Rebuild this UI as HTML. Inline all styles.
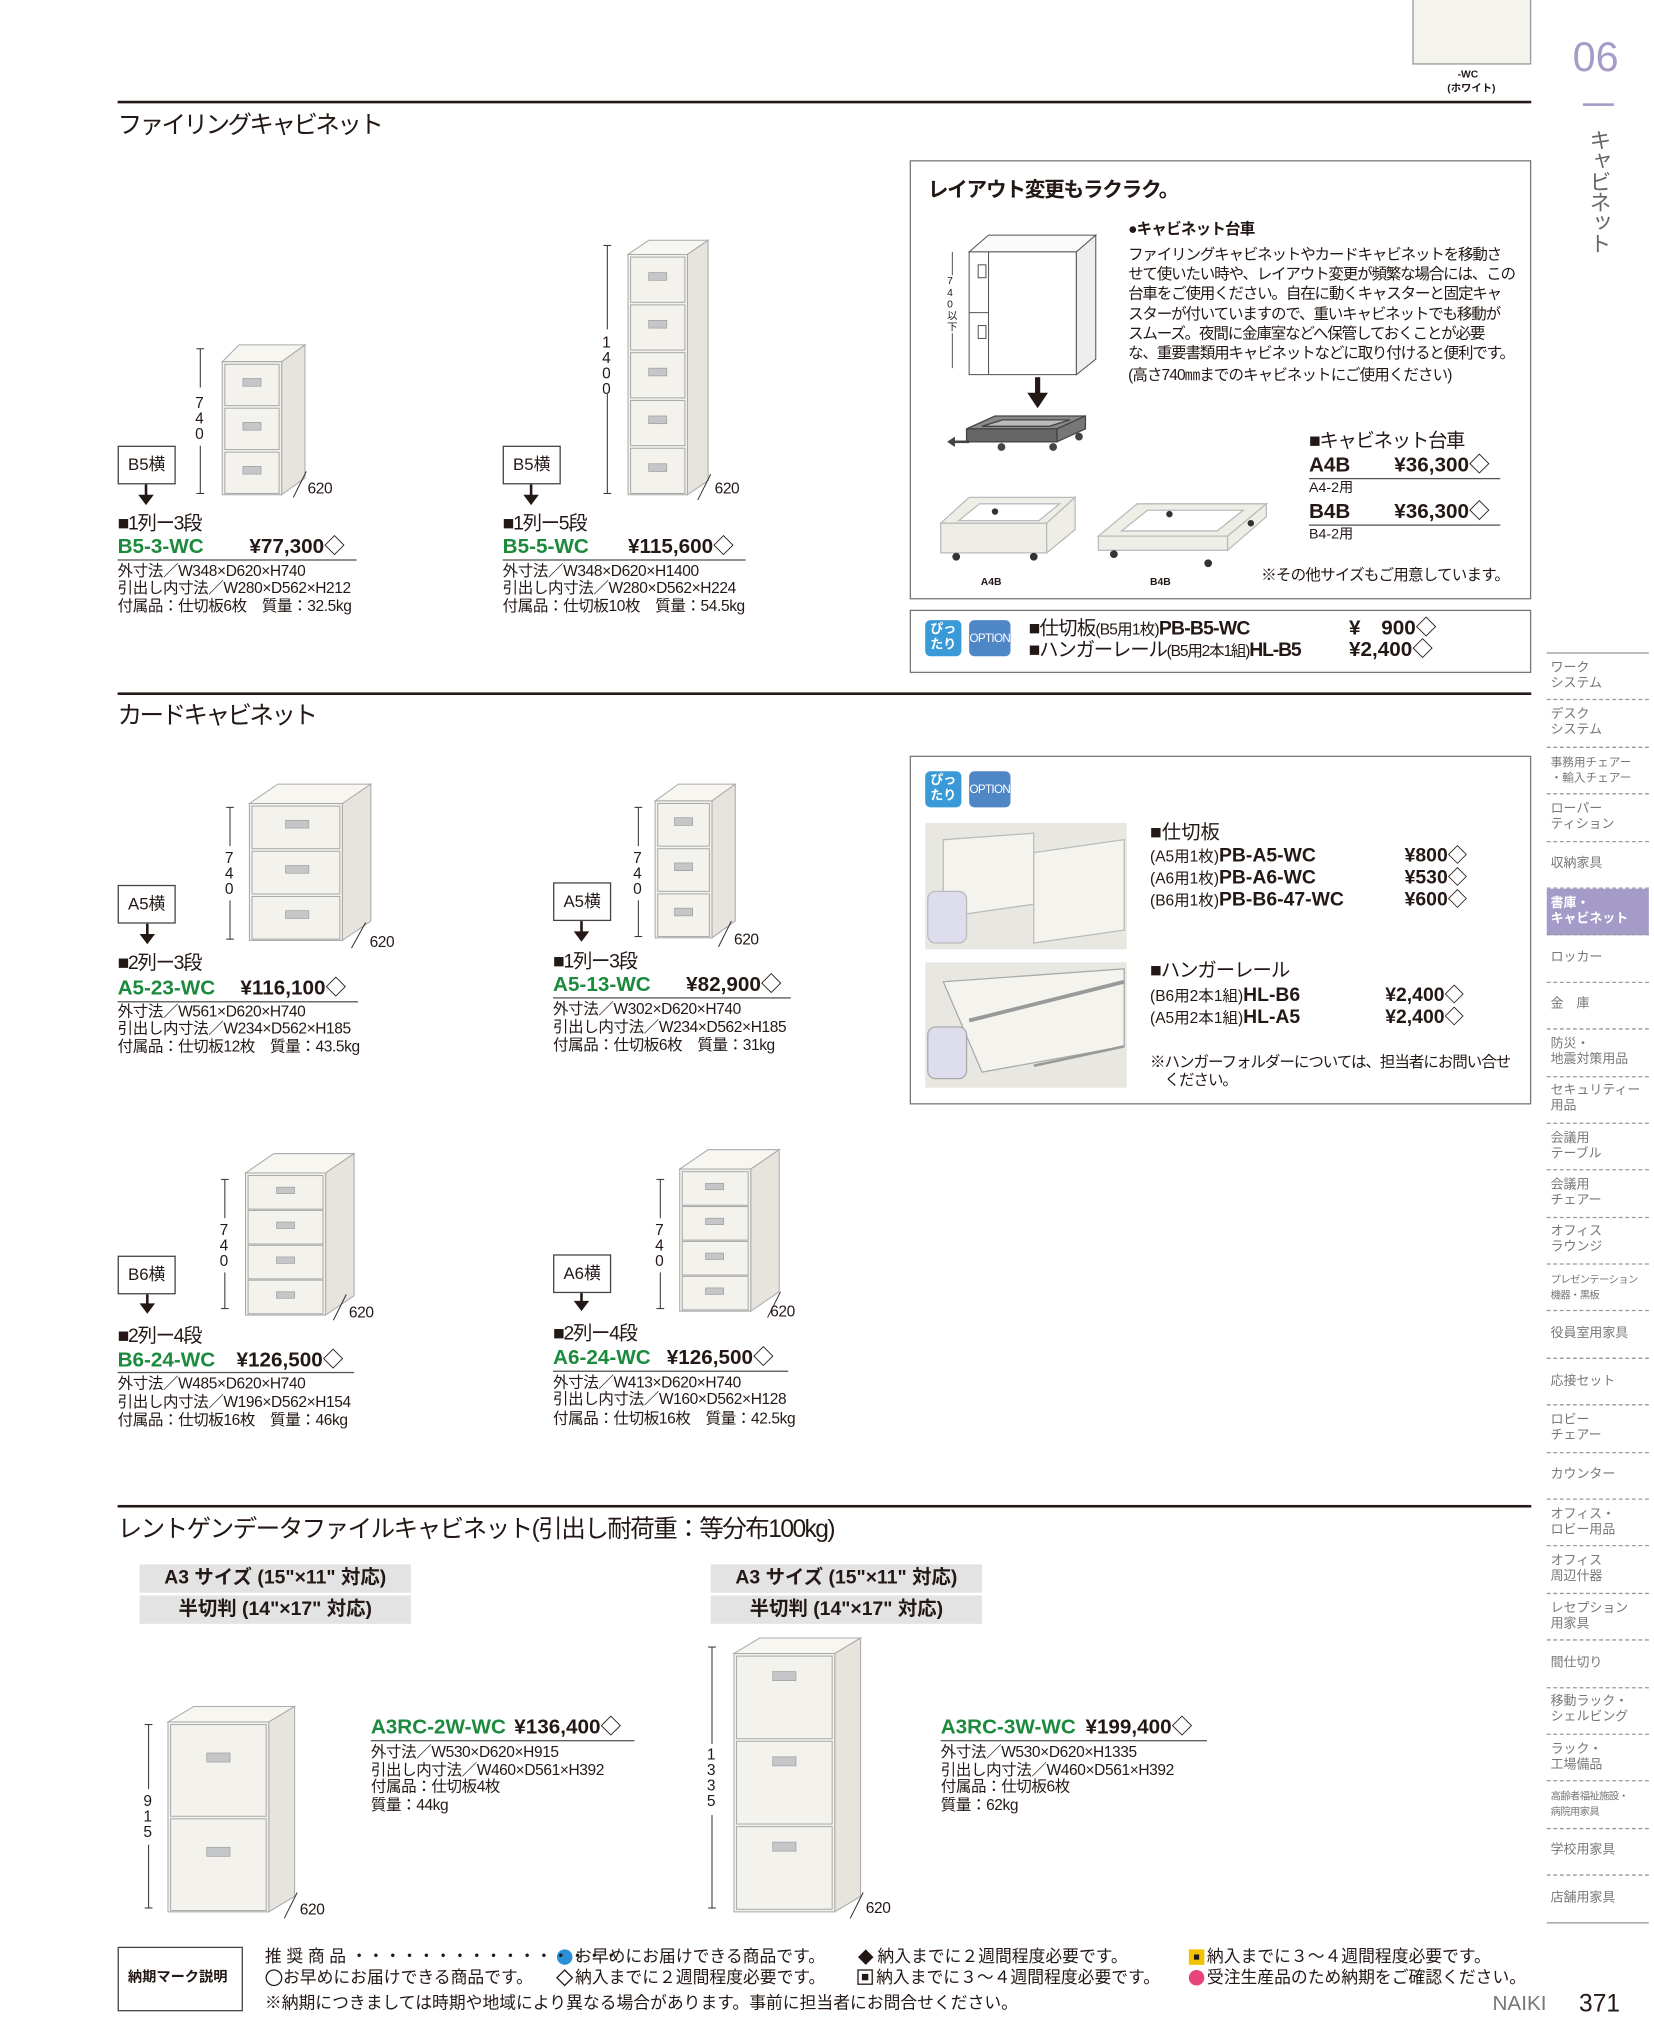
<!DOCTYPE html>
<html><head><meta charset="utf-8">
<style>
html,body{margin:0;padding:0;background:#fff;}
body{width:1654px;height:2032px;overflow:hidden;position:relative;}
#w{position:absolute;left:0;top:0;width:1280px;height:1573px;transform:scale(1.29219,1.29180);transform-origin:0 0;font-family:"Liberation Sans","Noto Sans CJK JP",sans-serif;color:#231815;}
.t{position:absolute;white-space:nowrap;line-height:1;}
.s{font-size:12px;letter-spacing:-0.3px;}
.g{color:#1b8a3c;font-weight:bold;}
.b{font-weight:bold;}
.h{font-size:19px;letter-spacing:-2px;}
.rule{position:absolute;height:2px;background:#231815;}
.ul{position:absolute;height:1px;background:#555;}
.box{position:absolute;border:1px solid #777;box-sizing:border-box;}
.lbl{position:absolute;border:1px solid #444;background:#fff;font-size:13px;line-height:28px;text-align:center;box-sizing:border-box;}
.nav{position:absolute;left:1197px;width:79px;font-size:10px;color:#777;line-height:12px;}
.navi{height:36.4px;border-bottom:1px dashed #999;box-sizing:border-box;display:flex;align-items:center;padding-left:3px;white-space:nowrap;overflow:hidden;}
.gray{position:absolute;background:#e3e3e3;font-size:15px;font-weight:bold;line-height:22px;text-align:center;}
.pit{position:absolute;width:28px;height:28px;background:#3a9ad8;border-radius:4px;color:#fff;font-size:10px;font-weight:bold;line-height:12px;text-align:center;padding-top:2px;box-sizing:border-box;}
.opt{position:absolute;width:32px;height:28px;background:#4f86c6;border-radius:4px;color:#fff;font-size:9px;line-height:28px;text-align:center;letter-spacing:-0.5px;}
</style></head><body><div id="w">

<div style="position:absolute;left:1093px;top:-2px;width:92px;height:52px;background:#f4f3ec;border:1px solid #999;box-sizing:border-box;"></div>
<div class="t b" style="left:1128px;top:54px;font-size:8px;">-WC</div>
<div class="t b" style="left:1120px;top:65px;font-size:8px;">(ホワイト)</div>
<div class="t" style="left:1217px;top:28px;font-size:32px;color:#a79bc8;">06</div>
<div style="position:absolute;left:1225px;top:80px;width:24px;height:2px;background:#a79bc8;"></div>
<div class="t" style="left:1228px;top:100px;font-size:17px;color:#666;writing-mode:vertical-rl;letter-spacing:-1px;">キャビネット</div>

<div class="rule" style="left:91px;top:78px;width:1094px;"></div>
<div class="t h" style="left:91px;top:88px;">ファイリングキャビネット</div>

<svg style="position:absolute;left:0;top:0" width="1280" height="1573" viewBox="0 0 1280 1573">
<g stroke="#aaa" stroke-width="0.8">
<polygon points="172,280 185,267 236,267 218,280" fill="#f7f6f1"/>
<polygon points="218,280 236,267 236,370 218,383" fill="#e6e4dc"/>
<rect x="172" y="280" width="46" height="103" fill="#f3f2ed"/>
<rect x="174" y="282" width="42" height="32" fill="#f3f2ed"/><rect x="174" y="316" width="42" height="32" fill="#f3f2ed"/><rect x="174" y="350" width="42" height="32" fill="#f3f2ed"/>
<polygon points="486,197 502,186 548,186 532,197" fill="#f7f6f1"/>
<polygon points="532,197 548,186 548,372 532,383" fill="#e6e4dc"/>
<rect x="486" y="197" width="46" height="186" fill="#f3f2ed"/>
<rect x="488" y="199" width="42" height="35" fill="#f3f2ed"/><rect x="488" y="236" width="42" height="35" fill="#f3f2ed"/><rect x="488" y="273" width="42" height="35" fill="#f3f2ed"/><rect x="488" y="310" width="42" height="35" fill="#f3f2ed"/><rect x="488" y="347" width="42" height="35" fill="#f3f2ed"/>
<polygon points="193,622 215,607 287,607 265,622" fill="#f7f6f1"/>
<polygon points="265,622 287,607 287,713 265,728" fill="#e6e4dc"/>
<rect x="193" y="622" width="72" height="106" fill="#f3f2ed"/>
<rect x="195" y="624" width="68" height="33" fill="#f3f2ed"/><rect x="195" y="659" width="68" height="33" fill="#f3f2ed"/><rect x="195" y="694" width="68" height="33" fill="#f3f2ed"/>
<polygon points="507,620 525,607 569,607 551,620" fill="#f7f6f1"/>
<polygon points="551,620 569,607 569,713 551,726" fill="#e6e4dc"/>
<rect x="507" y="620" width="44" height="106" fill="#f3f2ed"/>
<rect x="509" y="622" width="40" height="33" fill="#f3f2ed"/><rect x="509" y="657" width="40" height="33" fill="#f3f2ed"/><rect x="509" y="692" width="40" height="33" fill="#f3f2ed"/>
<polygon points="190,908 212,893 274,893 252,908" fill="#f7f6f1"/>
<polygon points="252,908 274,893 274,1003 252,1018" fill="#e6e4dc"/>
<rect x="190" y="908" width="62" height="110" fill="#f3f2ed"/>
<rect x="192" y="910" width="58" height="26" fill="#f3f2ed"/><rect x="192" y="937" width="58" height="26" fill="#f3f2ed"/><rect x="192" y="964" width="58" height="26" fill="#f3f2ed"/><rect x="192" y="991" width="58" height="26" fill="#f3f2ed"/>
<polygon points="526,905 548,890 603,890 581,905" fill="#f7f6f1"/>
<polygon points="581,905 603,890 603,1000 581,1015" fill="#e6e4dc"/>
<rect x="526" y="905" width="55" height="110" fill="#f3f2ed"/>
<rect x="528" y="907" width="51" height="26" fill="#f3f2ed"/><rect x="528" y="934" width="51" height="26" fill="#f3f2ed"/><rect x="528" y="961" width="51" height="26" fill="#f3f2ed"/><rect x="528" y="988" width="51" height="26" fill="#f3f2ed"/>
<polygon points="130,1333 150,1321 228,1321 208,1333" fill="#f7f6f1"/>
<polygon points="208,1333 228,1321 228,1468 208,1480" fill="#e6e4dc"/>
<rect x="130" y="1333" width="78" height="147" fill="#f3f2ed"/>
<rect x="132" y="1335" width="74" height="71" fill="#f3f2ed"/><rect x="132" y="1408" width="74" height="71" fill="#f3f2ed"/>
<polygon points="568,1280 588,1268 666,1268 646,1280" fill="#f7f6f1"/>
<polygon points="646,1280 666,1268 666,1468 646,1480" fill="#e6e4dc"/>
<rect x="568" y="1280" width="78" height="200" fill="#f3f2ed"/>
<rect x="570" y="1282" width="74" height="64" fill="#f3f2ed"/><rect x="570" y="1348" width="74" height="64" fill="#f3f2ed"/><rect x="570" y="1414" width="74" height="64" fill="#f3f2ed"/>
</g>
<g fill="#c4c6c8" stroke="#999" stroke-width="0.5">
<rect x="188" y="293" width="14" height="6"/><rect x="188" y="327" width="14" height="6"/><rect x="188" y="361" width="14" height="6"/>
<rect x="502" y="211" width="14" height="6"/><rect x="502" y="248" width="14" height="6"/><rect x="502" y="285" width="14" height="6"/><rect x="502" y="322" width="14" height="6"/><rect x="502" y="359" width="14" height="6"/>
<rect x="221" y="635" width="18" height="6"/><rect x="221" y="670" width="18" height="6"/><rect x="221" y="705" width="18" height="6"/>
<rect x="522" y="633" width="14" height="6"/><rect x="522" y="668" width="14" height="6"/><rect x="522" y="703" width="14" height="6"/>
<rect x="214" y="919" width="14" height="5"/><rect x="214" y="946" width="14" height="5"/><rect x="214" y="973" width="14" height="5"/><rect x="214" y="1000" width="14" height="5"/>
<rect x="546" y="916" width="14" height="5"/><rect x="546" y="943" width="14" height="5"/><rect x="546" y="970" width="14" height="5"/><rect x="546" y="997" width="14" height="5"/>
<rect x="160" y="1357" width="18" height="7"/><rect x="160" y="1430" width="18" height="7"/>
<rect x="598" y="1294" width="18" height="7"/><rect x="598" y="1360" width="18" height="7"/><rect x="598" y="1426" width="18" height="7"/>
</g>
<g stroke="#333" stroke-width="0.8">
<line x1="155" y1="270" x2="155" y2="300"/><line x1="155" y1="345" x2="155" y2="382"/><line x1="152" y1="270" x2="158" y2="270"/><line x1="152" y1="382" x2="158" y2="382"/>
<line x1="470" y1="190" x2="470" y2="255"/><line x1="470" y1="305" x2="470" y2="382"/><line x1="467" y1="190" x2="473" y2="190"/><line x1="467" y1="382" x2="473" y2="382"/>
<line x1="178" y1="625" x2="178" y2="655"/><line x1="178" y1="697" x2="178" y2="727"/><line x1="175" y1="625" x2="181" y2="625"/><line x1="175" y1="727" x2="181" y2="727"/>
<line x1="494" y1="625" x2="494" y2="655"/><line x1="494" y1="697" x2="494" y2="725"/><line x1="491" y1="625" x2="497" y2="625"/><line x1="491" y1="725" x2="497" y2="725"/>
<line x1="174" y1="913" x2="174" y2="943"/><line x1="174" y1="985" x2="174" y2="1013"/><line x1="171" y1="913" x2="177" y2="913"/><line x1="171" y1="1013" x2="177" y2="1013"/>
<line x1="511" y1="913" x2="511" y2="943"/><line x1="511" y1="985" x2="511" y2="1013"/><line x1="508" y1="913" x2="514" y2="913"/><line x1="508" y1="1013" x2="514" y2="1013"/>
<line x1="115" y1="1335" x2="115" y2="1385"/><line x1="115" y1="1428" x2="115" y2="1477"/><line x1="112" y1="1335" x2="118" y2="1335"/><line x1="112" y1="1477" x2="118" y2="1477"/>
<line x1="551" y1="1275" x2="551" y2="1350"/><line x1="551" y1="1405" x2="551" y2="1477"/><line x1="548" y1="1275" x2="554" y2="1275"/><line x1="548" y1="1477" x2="554" y2="1477"/>
<line x1="227" y1="385" x2="237" y2="365"/><line x1="540" y1="387" x2="550" y2="367"/>
<line x1="272" y1="734" x2="283" y2="714"/><line x1="556" y1="733" x2="566" y2="713"/>
<line x1="258" y1="1022" x2="268" y2="1002"/><line x1="594" y1="1020" x2="604" y2="1000"/>
<line x1="220" y1="1485" x2="230" y2="1465"/><line x1="658" y1="1485" x2="668" y2="1465"/>
</g>
<g fill="#231815" stroke="#231815" stroke-width="2">
<line x1="113" y1="375" x2="113" y2="384"/><polygon points="107,383 119,383 113,391" stroke-width="0"/>
<line x1="411" y1="375" x2="411" y2="384"/><polygon points="405,383 417,383 411,391" stroke-width="0"/>
<line x1="114" y1="715" x2="114" y2="724"/><polygon points="108,723 120,723 114,731" stroke-width="0"/>
<line x1="450" y1="713" x2="450" y2="722"/><polygon points="444,721 456,721 450,729" stroke-width="0"/>
<line x1="114" y1="1002" x2="114" y2="1010"/><polygon points="108,1009 120,1009 114,1017" stroke-width="0"/>
<line x1="450" y1="1000" x2="450" y2="1008"/><polygon points="444,1007 456,1007 450,1015" stroke-width="0"/>
</g>
<g stroke="#555" stroke-width="0.8">
<polygon points="750,195 765,182 848,182 833,195" fill="#fafafa"/>
<rect x="750" y="195" width="83" height="95" fill="#fff"/>
<polygon points="833,195 848,182 848,278 833,290" fill="#eee"/>
<line x1="765" y1="195" x2="765" y2="290"/><line x1="750" y1="242" x2="765" y2="242"/>
<rect x="757" y="205" width="6" height="10" fill="#fff"/><rect x="757" y="252" width="6" height="10" fill="#fff"/>
<line x1="737" y1="195" x2="737" y2="285"/>
</g>
<g fill="#231815"><rect x="801" y="292" width="4" height="14"/><polygon points="795,304 811,304 803,316"/></g>
<g stroke="#444" stroke-width="1">
<polygon points="748,332 770,322 840,322 818,332" fill="#888"/>
<polygon points="748,332 818,332 818,342 748,342" fill="#666"/>
<polygon points="818,332 840,322 840,332 818,342" fill="#777"/>
<polygon points="760,330 776,325 828,325 812,330" fill="#bbb"/>
</g>
<g fill="#444"><circle cx="775" cy="346" r="3"/><circle cx="815" cy="346" r="3"/><circle cx="835" cy="338" r="3"/><rect x="736" y="341" width="14" height="2"/><polygon points="733,342 739,338 739,346"/></g>
<g stroke="#bbb" stroke-width="1" fill="#efeee6">
<polygon points="728,405 750,385 832,385 810,405"/>
<polygon points="728,405 810,405 810,428 728,428"/>
<polygon points="810,405 832,385 832,410 810,428"/>
<polygon points="742,403 758,390 820,390 804,403" fill="#fff"/>
<polygon points="850,415 880,390 980,390 950,415"/>
<polygon points="850,415 950,415 950,426 850,426"/>
<polygon points="950,415 980,390 980,400 950,426"/>
<polygon points="868,411 888,395 962,395 942,411" fill="#fff"/>
</g>
<g fill="#333"><circle cx="740" cy="431" r="3"/><circle cx="800" cy="431" r="3"/><circle cx="770" cy="396" r="2.5"/><circle cx="862" cy="429" r="3"/><circle cx="935" cy="436" r="3"/><circle cx="905" cy="398" r="2.5"/><circle cx="968" cy="405" r="2.5"/></g>
<rect x="716" y="637" width="156" height="98" fill="#e8e7e2"/>
<g stroke="#bbb" fill="#f4f3ee"><polygon points="730,650 800,645 800,700 730,710"/><polygon points="800,660 870,650 870,720 800,730"/><rect x="718" y="690" width="30" height="40" rx="6" fill="#dde"/></g>
<rect x="716" y="745" width="156" height="97" fill="#e8e7e2"/>
<g stroke="#aaa" fill="#f4f3ee"><polygon points="730,760 870,750 870,810 760,830"/><line x1="750" y1="790" x2="870" y2="760" stroke="#999" stroke-width="3"/><line x1="800" y1="825" x2="870" y2="810" stroke="#999" stroke-width="2"/><rect x="718" y="795" width="30" height="40" rx="6" fill="#dde"/></g>
<circle cx="437" cy="1515" r="6" fill="#2a8fd6"/>
<polygon points="670,1509 676,1515 670,1521 664,1515" fill="#231815"/>
<rect x="920" y="1509" width="12" height="12" fill="#f2c200"/><rect x="924" y="1513" width="4" height="4" fill="#231815"/>
<circle cx="212" cy="1531" r="6" fill="none" stroke="#231815"/>
<polygon points="437,1525 443,1531 437,1537 431,1531" fill="none" stroke="#231815"/>
<rect x="664" y="1525" width="11" height="11" fill="none" stroke="#231815"/><rect x="667" y="1528" width="5" height="5" fill="#231815"/>
<circle cx="926" cy="1531" r="6" fill="#e8447a"/>
</svg>

<div class="t s" style="left:151px;top:306px;width:9px;line-height:12px;white-space:normal;">7 4 0</div>
<div class="t s" style="left:466px;top:259px;width:9px;line-height:12px;white-space:normal;">1 4 0 0</div>
<div class="t s" style="left:174px;top:658px;width:9px;line-height:12px;white-space:normal;">7 4 0</div>
<div class="t s" style="left:490px;top:658px;width:9px;line-height:12px;white-space:normal;">7 4 0</div>
<div class="t s" style="left:170px;top:946px;width:9px;line-height:12px;white-space:normal;">7 4 0</div>
<div class="t s" style="left:507px;top:946px;width:9px;line-height:12px;white-space:normal;">7 4 0</div>
<div class="t s" style="left:111px;top:1388px;width:9px;line-height:12px;white-space:normal;">9 1 5</div>
<div class="t s" style="left:547px;top:1352px;width:9px;line-height:12px;white-space:normal;">1 3 3 5</div>
<div class="t s" style="left:238px;top:372px;">620</div>
<div class="t s" style="left:553px;top:372px;">620</div>
<div class="t s" style="left:286px;top:723px;">620</div>
<div class="t s" style="left:568px;top:721px;">620</div>
<div class="t s" style="left:270px;top:1010px;">620</div>
<div class="t s" style="left:596px;top:1009px;">620</div>
<div class="t s" style="left:232px;top:1472px;">620</div>
<div class="t s" style="left:670px;top:1471px;">620</div>

<div class="lbl" style="left:91px;top:345px;width:45px;height:30px;">B5横</div>
<div class="t" style="left:91px;top:398px;font-size:15px;letter-spacing:-1px;">■1列ー3段</div>
<div class="t g" style="left:91px;top:416px;font-size:16px;">B5-3-WC</div>
<div class="t b" style="left:193px;top:416px;font-size:16px;">¥77,300◇</div>
<div class="ul" style="left:91px;top:433px;width:185px;"></div>
<div class="t s" style="left:91px;top:436px;">外寸法／W348×D620×H740</div>
<div class="t s" style="left:91px;top:449px;">引出し内寸法／W280×D562×H212</div>
<div class="t s" style="left:91px;top:463px;">付属品：仕切板6枚　質量：32.5kg</div>
<div class="lbl" style="left:389px;top:345px;width:45px;height:30px;">B5横</div>
<div class="t" style="left:389px;top:398px;font-size:15px;letter-spacing:-1px;">■1列ー5段</div>
<div class="t g" style="left:389px;top:416px;font-size:16px;">B5-5-WC</div>
<div class="t b" style="left:486px;top:416px;font-size:16px;">¥115,600◇</div>
<div class="ul" style="left:389px;top:433px;width:188px;"></div>
<div class="t s" style="left:389px;top:436px;">外寸法／W348×D620×H1400</div>
<div class="t s" style="left:389px;top:449px;">引出し内寸法／W280×D562×H224</div>
<div class="t s" style="left:389px;top:463px;">付属品：仕切板10枚　質量：54.5kg</div>

<div class="box" style="left:704px;top:124px;width:481px;height:340px;"></div>
<div class="t b" style="left:718px;top:140px;font-size:16px;letter-spacing:-1px;">レイアウト変更もラクラク。</div>
<div class="t" style="left:733px;top:213px;font-size:8px;width:9px;line-height:9px;white-space:normal;background:#fff;">7 4 0 以 下</div>
<div class="t b" style="left:873px;top:171px;font-size:12px;letter-spacing:-0.6px;">●キャビネット台車</div>
<div class="t" style="left:873px;top:190px;font-size:12px;line-height:15.2px;letter-spacing:-0.9px;">ファイリングキャビネットやカードキャビネットを移動さ<br>せて使いたい時や、レイアウト変更が頻繁な場合には、この<br>台車をご使用ください。自在に動くキャスターと固定キャ<br>スターが付いていますので、重いキャビネットでも移動が<br>スムーズ。夜間に金庫室などへ保管しておくことが必要<br>な、重要書類用キャビネットなどに取り付けると便利です。</div>
<div class="t" style="left:873px;top:284px;font-size:12px;letter-spacing:-0.7px;">(高さ740㎜までのキャビネットにご使用ください)</div>
<div class="t" style="left:1013px;top:334px;font-size:15px;letter-spacing:-1px;">■キャビネット台車</div>
<div class="t b" style="left:1013px;top:353px;font-size:16px;">A4B</div>
<div class="t b" style="left:1079px;top:353px;font-size:16px;">¥36,300◇</div>
<div class="ul" style="left:1013px;top:370px;width:148px;"></div>
<div class="t" style="left:1013px;top:373px;font-size:11px;">A4-2用</div>
<div class="t b" style="left:1013px;top:389px;font-size:16px;">B4B</div>
<div class="t b" style="left:1079px;top:389px;font-size:16px;">¥36,300◇</div>
<div class="ul" style="left:1013px;top:406px;width:148px;"></div>
<div class="t" style="left:1013px;top:409px;font-size:11px;">B4-2用</div>
<div class="t" style="left:976px;top:439px;font-size:12px;letter-spacing:-0.6px;">※その他サイズもご用意しています。</div>
<div class="t b" style="left:759px;top:447px;font-size:8px;">A4B</div>
<div class="t b" style="left:890px;top:447px;font-size:8px;">B4B</div>

<div class="box" style="left:704px;top:472px;width:481px;height:49px;"></div>
<div class="pit" style="left:716px;top:480px;">ぴっ<br>たり</div>
<div class="opt" style="left:750px;top:480px;">OPTION</div>
<div class="t" style="left:796px;top:479px;font-size:15px;letter-spacing:-0.6px;">■仕切板<span style="font-size:12px">(B5用1枚)</span><b>PB-B5-WC</b></div>
<div class="t b" style="left:1044px;top:479px;font-size:16px;">¥　900◇</div>
<div class="t" style="left:796px;top:496px;font-size:15px;letter-spacing:-0.9px;">■ハンガーレール<span style="font-size:12px">(B5用2本1組)</span><b>HL-B5</b></div>
<div class="t b" style="left:1044px;top:496px;font-size:16px;">¥2,400◇</div>

<div class="rule" style="left:91px;top:536px;width:1094px;"></div>
<div class="t h" style="left:91px;top:545px;">カードキャビネット</div>

<div class="lbl" style="left:91px;top:685px;width:45px;height:30px;">A5横</div>
<div class="t" style="left:91px;top:738px;font-size:15px;letter-spacing:-1px;">■2列ー3段</div>
<div class="t g" style="left:91px;top:758px;font-size:16px;">A5-23-WC</div>
<div class="t b" style="left:186px;top:758px;font-size:16px;">¥116,100◇</div>
<div class="ul" style="left:91px;top:775px;width:186px;"></div>
<div class="t s" style="left:91px;top:777px;">外寸法／W561×D620×H740</div>
<div class="t s" style="left:91px;top:790px;">引出し内寸法／W234×D562×H185</div>
<div class="t s" style="left:91px;top:804px;">付属品：仕切板12枚　質量：43.5kg</div>
<div class="lbl" style="left:428px;top:683px;width:45px;height:30px;">A5横</div>
<div class="t" style="left:428px;top:737px;font-size:15px;letter-spacing:-1px;">■1列ー3段</div>
<div class="t g" style="left:428px;top:755px;font-size:16px;">A5-13-WC</div>
<div class="t b" style="left:531px;top:755px;font-size:16px;">¥82,900◇</div>
<div class="ul" style="left:428px;top:772px;width:184px;"></div>
<div class="t s" style="left:428px;top:775px;">外寸法／W302×D620×H740</div>
<div class="t s" style="left:428px;top:789px;">引出し内寸法／W234×D562×H185</div>
<div class="t s" style="left:428px;top:803px;">付属品：仕切板6枚　質量：31kg</div>

<div class="box" style="left:704px;top:585px;width:481px;height:270px;"></div>
<div class="pit" style="left:716px;top:597px;">ぴっ<br>たり</div>
<div class="opt" style="left:750px;top:597px;">OPTION</div>
<div class="t" style="left:890px;top:637px;font-size:15px;">■仕切板</div>
<div class="t" style="left:890px;top:655px;font-size:15px;"><span style="font-size:12px">(A5用1枚)</span><b>PB-A5-WC</b></div>
<div class="t" style="left:890px;top:672px;font-size:15px;"><span style="font-size:12px">(A6用1枚)</span><b>PB-A6-WC</b></div>
<div class="t" style="left:890px;top:689px;font-size:15px;"><span style="font-size:12px">(B6用1枚)</span><b>PB-B6-47-WC</b></div>
<div class="t b" style="left:1087px;top:655px;font-size:15px;">¥800◇</div>
<div class="t b" style="left:1087px;top:672px;font-size:15px;">¥530◇</div>
<div class="t b" style="left:1087px;top:689px;font-size:15px;">¥600◇</div>
<div class="t" style="left:890px;top:744px;font-size:15px;letter-spacing:-0.8px;">■ハンガーレール</div>
<div class="t" style="left:890px;top:763px;font-size:15px;"><span style="font-size:12px">(B6用2本1組)</span><b>HL-B6</b></div>
<div class="t" style="left:890px;top:780px;font-size:15px;"><span style="font-size:12px">(A5用2本1組)</span><b>HL-A5</b></div>
<div class="t b" style="left:1072px;top:763px;font-size:15px;">¥2,400◇</div>
<div class="t b" style="left:1072px;top:780px;font-size:15px;">¥2,400◇</div>
<div class="t" style="left:890px;top:815px;font-size:12px;line-height:14px;letter-spacing:-0.8px;">※ハンガーフォルダーについては、担当者にお問い合せ<br>　ください。</div>

<div class="lbl" style="left:91px;top:972px;width:45px;height:30px;">B6横</div>
<div class="t" style="left:91px;top:1027px;font-size:15px;letter-spacing:-1px;">■2列ー4段</div>
<div class="t g" style="left:91px;top:1046px;font-size:16px;">B6-24-WC</div>
<div class="t b" style="left:183px;top:1046px;font-size:16px;">¥126,500◇</div>
<div class="ul" style="left:91px;top:1062px;width:183px;"></div>
<div class="t s" style="left:91px;top:1065px;">外寸法／W485×D620×H740</div>
<div class="t s" style="left:91px;top:1079px;">引出し内寸法／W196×D562×H154</div>
<div class="t s" style="left:91px;top:1093px;">付属品：仕切板16枚　質量：46kg</div>
<div class="lbl" style="left:428px;top:971px;width:45px;height:30px;">A6横</div>
<div class="t" style="left:428px;top:1025px;font-size:15px;letter-spacing:-1px;">■2列ー4段</div>
<div class="t g" style="left:428px;top:1044px;font-size:16px;">A6-24-WC</div>
<div class="t b" style="left:516px;top:1044px;font-size:16px;">¥126,500◇</div>
<div class="ul" style="left:428px;top:1061px;width:182px;"></div>
<div class="t s" style="left:428px;top:1064px;">外寸法／W413×D620×H740</div>
<div class="t s" style="left:428px;top:1077px;">引出し内寸法／W160×D562×H128</div>
<div class="t s" style="left:428px;top:1092px;">付属品：仕切板16枚　質量：42.5kg</div>

<div class="rule" style="left:91px;top:1165px;width:1094px;"></div>
<div class="t h" style="left:91px;top:1175px;letter-spacing:-1.2px;">レントゲンデータファイルキャビネット(引出し耐荷重：等分布100kg)</div>
<div class="gray" style="left:108px;top:1211px;width:210px;">A3 サイズ (15"×11" 対応)</div>
<div class="gray" style="left:108px;top:1235px;width:210px;">半切判 (14"×17" 対応)</div>
<div class="gray" style="left:550px;top:1211px;width:210px;">A3 サイズ (15"×11" 対応)</div>
<div class="gray" style="left:550px;top:1235px;width:210px;">半切判 (14"×17" 対応)</div>

<div class="t g" style="left:287px;top:1330px;font-size:16px;">A3RC-2W-WC</div>
<div class="t b" style="left:398px;top:1330px;font-size:16px;">¥136,400◇</div>
<div class="ul" style="left:287px;top:1347px;width:204px;"></div>
<div class="t s" style="left:287px;top:1350px;line-height:13.5px;">外寸法／W530×D620×H915<br>引出し内寸法／W460×D561×H392<br>付属品：仕切板4枚<br>質量：44kg</div>
<div class="t g" style="left:728px;top:1330px;font-size:16px;">A3RC-3W-WC</div>
<div class="t b" style="left:840px;top:1330px;font-size:16px;">¥199,400◇</div>
<div class="ul" style="left:728px;top:1347px;width:206px;"></div>
<div class="t s" style="left:728px;top:1350px;line-height:13.5px;">外寸法／W530×D620×H1335<br>引出し内寸法／W460×D561×H392<br>付属品：仕切板6枚<br>質量：62kg</div>

<div class="box" style="left:91px;top:1507px;width:97px;height:50px;border-color:#444;"></div>
<div class="t b" style="left:99px;top:1526px;font-size:11px;">納期マーク説明</div>
<div class="t" style="left:205px;top:1508px;font-size:13px;">推 奨 商 品 ・・・・・・・・・・・・・・・・</div>
<div class="t" style="left:445px;top:1508px;font-size:13px;">お早めにお届けできる商品です。</div>
<div class="t" style="left:679px;top:1508px;font-size:13px;">納入までに２週間程度必要です。</div>
<div class="t" style="left:934px;top:1508px;font-size:13px;">納入までに３～４週間程度必要です。</div>
<div class="t" style="left:219px;top:1524px;font-size:13px;">お早めにお届けできる商品です。</div>
<div class="t" style="left:445px;top:1524px;font-size:13px;">納入までに２週間程度必要です。</div>
<div class="t" style="left:678px;top:1524px;font-size:13px;">納入までに３～４週間程度必要です。</div>
<div class="t" style="left:934px;top:1524px;font-size:13px;">受注生産品のため納期をご確認ください。</div>
<div class="t" style="left:205px;top:1544px;font-size:13px;">※納期につきましては時期や地域により異なる場合があります。事前に担当者にお問合せください。</div>

<div class="t" style="left:1155px;top:1544px;font-size:16px;color:#777;">NAIKI</div>
<div class="t" style="left:1222px;top:1542px;font-size:19px;">371</div>

<div class="nav" style="top:505px;border-top:1px solid #999;">
<div class="navi">ワーク<br>システム</div>
<div class="navi">デスク<br>システム</div>
<div class="navi" style="font-size:9px">事務用チェアー<br>・輸入チェアー</div>
<div class="navi">ローパー<br>ティション</div>
<div class="navi">収納家具</div>
<div class="navi" style="background:#a59bc9;color:#fff;font-weight:bold;">書庫・<br>キャビネット</div>
<div class="navi">ロッカー</div>
<div class="navi">金　庫</div>
<div class="navi">防災・<br>地震対策用品</div>
<div class="navi">セキュリティー<br>用品</div>
<div class="navi">会議用<br>テーブル</div>
<div class="navi">会議用<br>チェアー</div>
<div class="navi">オフィス<br>ラウンジ</div>
<div class="navi" style="font-size:8px;letter-spacing:-0.5px;">プレゼンテーション<br>機器・黒板</div>
<div class="navi">役員室用家具</div>
<div class="navi">応接セット</div>
<div class="navi">ロビー<br>チェアー</div>
<div class="navi">カウンター</div>
<div class="navi">オフィス・<br>ロビー用品</div>
<div class="navi">オフィス<br>周辺什器</div>
<div class="navi">レセプション<br>用家具</div>
<div class="navi">間仕切り</div>
<div class="navi">移動ラック・<br>シェルビング</div>
<div class="navi">ラック・<br>工場備品</div>
<div class="navi" style="font-size:8px;letter-spacing:-0.5px;">高齢者福祉施設・<br>病院用家具</div>
<div class="navi">学校用家具</div>
<div class="navi" style="border-bottom:1px solid #999">店舗用家具</div>
</div>

</div></body></html>
